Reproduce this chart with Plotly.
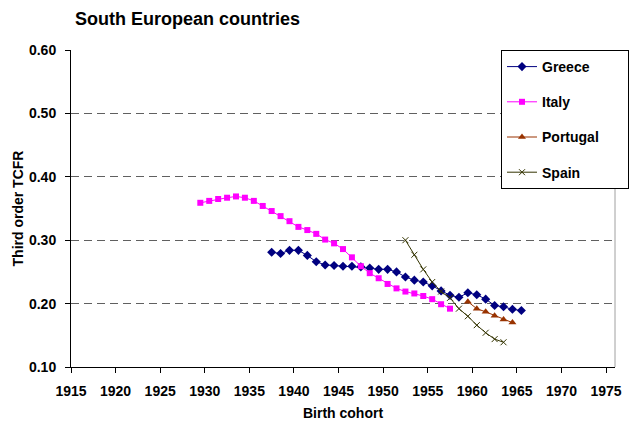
import plotly.graph_objects as go

# Birth cohorts (x) and third order TCFR (y)
greece_x = [1937.5 + i for i in range(29)]
greece_y = [0.281, 0.279, 0.284, 0.284, 0.276, 0.266, 0.261, 0.260, 0.259, 0.259,
            0.258, 0.256, 0.254, 0.254, 0.250, 0.242, 0.237, 0.234, 0.228, 0.220,
            0.213, 0.210, 0.217, 0.214, 0.207, 0.197, 0.195, 0.191, 0.189]

italy_x = [1929.5 + i for i in range(29)]
italy_y = [0.359, 0.362, 0.365, 0.367, 0.369, 0.367, 0.362, 0.354, 0.346, 0.338,
           0.330, 0.321, 0.316, 0.310, 0.301, 0.295, 0.286, 0.273, 0.259, 0.248,
           0.240, 0.231, 0.224, 0.219, 0.216, 0.212, 0.207, 0.199, 0.192]

portugal_x = [1959.5 + i for i in range(6)]
portugal_y = [0.203, 0.192, 0.187, 0.181, 0.175, 0.170]

spain_x = [1952.5 + i for i in range(12)]
spain_y = [0.300, 0.277, 0.254, 0.234, 0.219, 0.209, 0.192, 0.180, 0.166, 0.154,
           0.144, 0.139]

x_ticks = list(range(1915, 1980, 5))
y_ticks = [0.10, 0.20, 0.30, 0.40, 0.50, 0.60]

FONT = "Liberation Sans, Arial, sans-serif"
PAD = "\u00a0" * 6

fig = go.Figure()
fig.add_trace(go.Scatter(x=greece_x, y=greece_y, name="<b>Greece</b>", mode="lines+markers",
                         line=dict(color="#000080", width=1),
                         marker=dict(symbol="diamond", size=7, color="#000080"),
                         legendgroup="g"))
fig.add_trace(go.Scatter(x=italy_x, y=italy_y, name="<b>Italy</b>", mode="lines+markers",
                         line=dict(color="#FF00FF", width=1),
                         marker=dict(symbol="square", size=6, color="#FF00FF"),
                         legendgroup="i"))
fig.add_trace(go.Scatter(x=portugal_x, y=portugal_y, name="<b>Portugal</b>" + PAD,
                         mode="lines+markers",
                         line=dict(color="#993300", width=1),
                         marker=dict(symbol="triangle-up", size=7, color="#993300"),
                         legendgroup="p"))
fig.add_trace(go.Scatter(x=spain_x, y=spain_y, name="<b>Spain</b>", mode="lines+markers",
                         line=dict(color="#333300", width=1),
                         marker=dict(symbol="x-thin", size=6, color="#333300",
                                     line=dict(color="#333300", width=1)),
                         legendgroup="s"))

# right border of plot area
fig.add_shape(type="line", xref="paper", yref="paper", x0=1, x1=1, y0=0, y1=1,
              line=dict(color="#A0A0A0", width=1))

fig.update_layout(
    width=630, height=422,
    margin=dict(l=71, r=15, t=50, b=55, autoexpand=False),
    paper_bgcolor="white", plot_bgcolor="white",
    font=dict(family=FONT, size=14, color="black"),
    title=dict(text="<b>South European countries</b>", xref="container", x=75/630,
               xanchor="left", y=1 - 19/422, yanchor="middle",
               font=dict(family=FONT, size=18, color="black")),
    showlegend=True,
    legend=dict(x=(501 - 71) / 544, y=1.0, xanchor="left", yanchor="top",
                bgcolor="white", bordercolor="black", borderwidth=1,
                font=dict(family=FONT, size=14, color="black"),
                tracegroupgap=14, traceorder="grouped"),
    xaxis=dict(range=[1915, 1976], tickmode="array", tickvals=x_ticks,
               ticktext=["<b>%d</b>" % t for t in x_ticks],
               tickfont=dict(family=FONT, size=14),
               showgrid=False, zeroline=False, showline=True, linecolor="black", linewidth=1,
               ticks="outside", ticklen=5, tickcolor="black",
               ticklabelstandoff=6, automargin=False,
               title=dict(text="<b>Birth cohort</b>", standoff=10,
                          font=dict(family=FONT, size=14))),
    yaxis=dict(range=[0.1, 0.6], tickmode="array", tickvals=y_ticks,
               ticktext=["<b>%.2f</b>" % t for t in y_ticks],
               tickfont=dict(family=FONT, size=14),
               showgrid=True, gridcolor="#606060", gridwidth=1, griddash="8px,5px",
               zeroline=False, showline=True, linecolor="black", linewidth=1,
               ticks="outside", ticklen=5, tickcolor="black",
               ticklabelstandoff=6, automargin=False,
               title=dict(text="<b>Third order TCFR</b>", standoff=2,
                          font=dict(family=FONT, size=14))),
)

fig.write_html("out.html", config={"displayModeBar": False},
               post_script="document.body.style.margin='0';")
